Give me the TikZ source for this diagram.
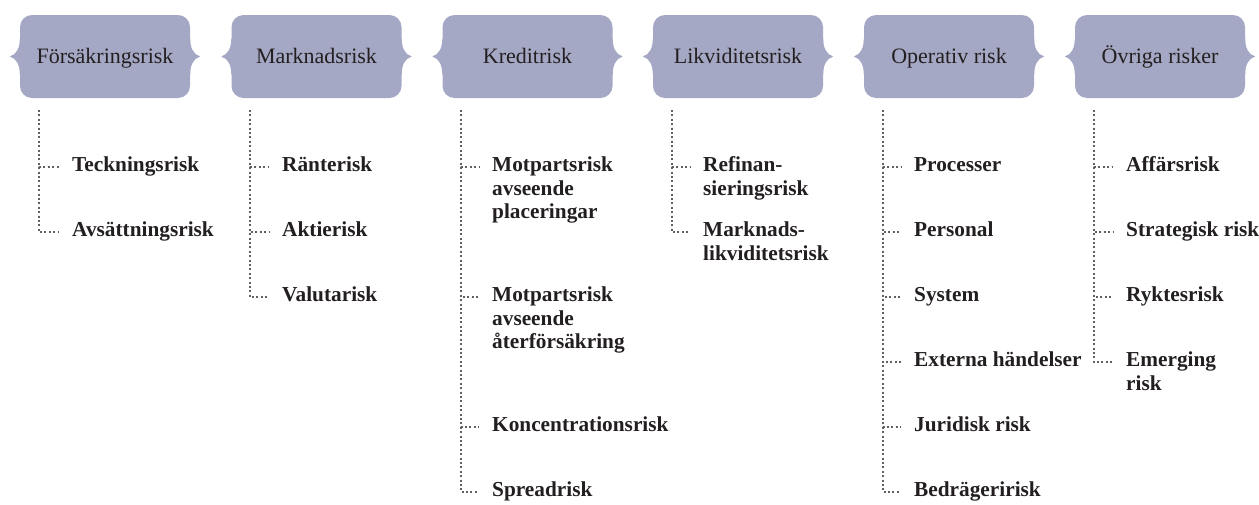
\documentclass[tikz,border=0pt]{standalone}
\usepackage{fontspec}
\setmainfont{Liberation Serif}
\usetikzlibrary{calc}
\definecolor{boxcol}{HTML}{A5A8C4}
\definecolor{txtcol}{HTML}{231F20}
\definecolor{dotcol}{HTML}{5F6063}
\newcommand\hdrbraces[1]{%
  \fill[boxcol] ([xshift=2pt,yshift=18pt]#1.west) -- ([yshift=18pt]#1.west)
    .. controls +(0pt,-9pt) and +(7pt,2pt) .. ([xshift=-10pt]#1.west)
    .. controls +(7pt,-2pt) and +(0pt,9pt) .. ([yshift=-18pt]#1.west)
    -- ([xshift=2pt,yshift=-18pt]#1.west) -- cycle;
  \fill[boxcol] ([xshift=-2pt,yshift=18pt]#1.east) -- ([yshift=18pt]#1.east)
    .. controls +(0pt,-9pt) and +(-7pt,2pt) .. ([xshift=10pt]#1.east)
    .. controls +(-7pt,-2pt) and +(0pt,9pt) .. ([yshift=-18pt]#1.east)
    -- ([xshift=-2pt,yshift=-18pt]#1.east) -- cycle;
}
\begin{document}
\begin{tikzpicture}[x=1pt,y=-1pt,
  hdr/.style={fill=boxcol, rounded corners=12pt, minimum width=170pt,
    minimum height=83pt, inner sep=0pt, text=txtcol,
    text height=17pt, text depth=4pt,
    font=\fontsize{22}{26}\selectfont},
  item/.style={anchor=base west, inner sep=0pt, text=txtcol,
    font=\fontsize{21.3}{23.5}\selectfont\bfseries},
  dotline/.style={draw=dotcol, line width=2pt, dash pattern=on 2pt off 2.4pt}
]
\useasboundingbox (0,0) rectangle (1259,504);

% headers
\node[hdr] (h1) at (105,56.5) {Försäkringsrisk};
\node[hdr] (h2) at (316.5,56.5) {Marknadsrisk};
\node[hdr] (h3) at (527.5,56.5) {Kreditrisk};
\node[hdr] (h4) at (738,56.5) {Likviditetsrisk};
\node[hdr] (h5) at (949,56.5) {Operativ risk};
\node[hdr] (h6) at (1160,56.5) {Övriga risker};
\foreach \h in {h1,h2,h3,h4,h5,h6}{\hdrbraces{\h}}

% trunk tops
\coordinate (t1) at (39,110);
\coordinate (t2) at (250,110);
\coordinate (t3) at (461,110);
\coordinate (t4) at (672,110);
\coordinate (t5) at (883,110);
\coordinate (t6) at (1094,110);

\def\rA{171.7}\def\rB{236.7}\def\rC{301.7}\def\rD{366.7}\def\rE{431.7}\def\rF{496.7}
\newcommand\lines[1]{\begin{tabular}[t]{@{}l@{}}#1\end{tabular}}

% column 1
\node[item] (a1) at (72,\rA) {Teckningsrisk};
\node[item] (a2) at (72,\rB) {Avsättningsrisk};
% column 2
\node[item] (b1) at (282,\rA) {Ränterisk};
\node[item] (b2) at (282,\rB) {Aktierisk};
\node[item] (b3) at (282,\rC) {Valutarisk};
% column 3
\node[item] (c1) at (492,\rA) {\lines{Motpartsrisk\\avseende\\placeringar}};
\node[item] (c2) at (492,\rC) {\lines{Motpartsrisk\\avseende\\återförsäkring}};
\node[item] (c3) at (492,\rE) {Koncentrationsrisk};
\node[item] (c4) at (492,\rF) {Spreadrisk};
% column 4
\node[item] (d1) at (703,\rA) {\lines{Refinan-\\sieringsrisk}};
\node[item] (d2) at (703,\rB) {\lines{Marknads-\\likviditetsrisk}};
% column 5
\node[item] (e1) at (914,\rA) {Processer};
\node[item] (e2) at (914,\rB) {Personal};
\node[item] (e3) at (914,\rC) {System};
\node[item] (e4) at (914,\rD) {Externa händelser};
\node[item] (e5) at (914,\rE) {Juridisk risk};
\node[item] (e6) at (914,\rF) {Bedrägeririsk};
% column 6
\node[item] (f1) at (1126,\rA) {Affärsrisk};
\node[item] (f2) at (1126,\rB) {Strategisk risk};
\node[item] (f3) at (1126,\rC) {Ryktesrisk};
\node[item] (f4) at (1126,\rD) {\lines{Emerging\\risk}};

% connectors
\foreach \t/\n in {t1/a1,t1/a2,t2/b1,t2/b2,t2/b3,t3/c1,t3/c2,t3/c3,t3/c4,
                   t4/d1,t4/d2,t5/e1,t5/e2,t5/e3,t5/e4,t5/e5,t5/e6,
                   t6/f1,t6/f2,t6/f3,t6/f4}{
  \draw[dotline] (\t) |- ([xshift=-13pt,yshift=4.5pt]\n.base west);
}
\end{tikzpicture}
\end{document}
